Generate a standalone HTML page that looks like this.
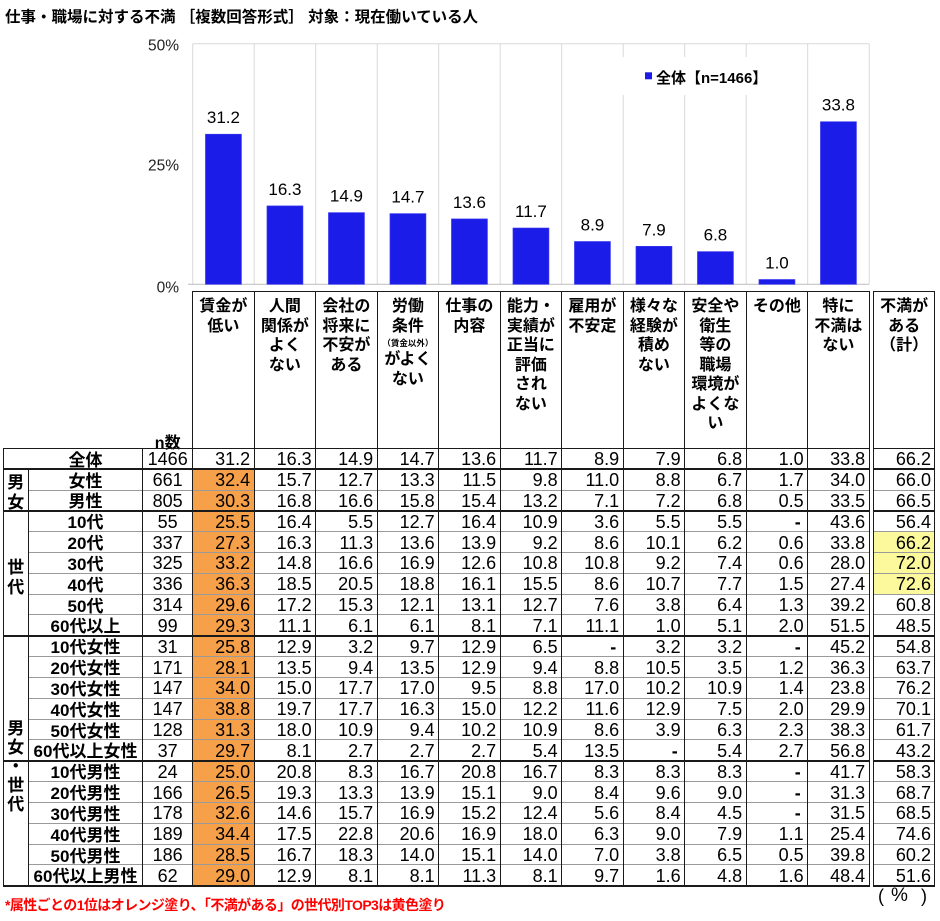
<!DOCTYPE html>
<html><head><meta charset="utf-8">
<style>
html,body{margin:0;padding:0;background:#fff;}
body{width:940px;height:921px;position:relative;overflow:hidden;font-family:"Liberation Sans","Noto Sans CJK JP",sans-serif;color:#000;}
.abs{position:absolute;}
.title{position:absolute;left:5px;top:8px;font:bold 15.5px/20px "Liberation Sans","Noto Sans CJK JP",sans-serif;white-space:nowrap;}
.h{position:absolute;top:297px;width:61.5px;text-align:center;font:bold 16px/19.5px "Liberation Sans","Noto Sans CJK JP",sans-serif;white-space:nowrap;}
.h .sm{display:block;font-size:8.5px;line-height:14px;height:14px;}
.r{position:absolute;left:3.3px;height:20.83px;display:flex;}
.r span{flex:none;display:block;width:61.5px;height:20.83px;box-sizing:border-box;padding:1px 4px 0 0;text-align:right;font:18px/20.83px "Liberation Sans",sans-serif;color:#000;white-space:nowrap;}
.r .g{width:25px;padding:0;}
.r .l{width:114.4px;padding:2.5px 0 0 0;text-align:center;font:bold 17px/20.83px "Liberation Sans","Noto Sans CJK JP",sans-serif;}
.r .n{width:50px;padding:1px 0 0 0;text-align:center;}
.r .t{margin-left:4.1px;width:61.7px;}
.r .o{background:#f7a04a;}
.r .y{background:#fcf89c;}
.r .x{font-weight:bold;padding-right:7px;}
.grp{position:absolute;left:3.3px;width:25px;text-align:center;font:bold 17px/20.5px "Liberation Sans","Noto Sans CJK JP",sans-serif;}
.v{position:absolute;width:1px;background:#1a1a1a;}
.hd{position:absolute;height:1.5px;background:#1a1a1a;}
.hg{position:absolute;height:1px;background:#9a9a9a;}
</style></head><body>

<div class="title">仕事・職場に対する不満 ［複数回答形式］ 対象：現在働いている人</div>

<svg class="abs" style="left:0;top:0" width="940" height="300" xmlns="http://www.w3.org/2000/svg">
  <g stroke="#d9d9d9" stroke-width="1">
    <line x1="192.7" y1="43.7" x2="869.2" y2="43.7"/>
    <line x1="192.7" y1="43.7" x2="192.7" y2="284.3"/>
    <line x1="254.2" y1="43.7" x2="254.2" y2="284.3"/>
    <line x1="315.7" y1="43.7" x2="315.7" y2="284.3"/>
    <line x1="377.2" y1="43.7" x2="377.2" y2="284.3"/>
    <line x1="438.7" y1="43.7" x2="438.7" y2="284.3"/>
    <line x1="500.2" y1="43.7" x2="500.2" y2="284.3"/>
    <line x1="561.7" y1="43.7" x2="561.7" y2="284.3"/>
    <line x1="623.2" y1="43.7" x2="623.2" y2="284.3"/>
    <line x1="684.7" y1="43.7" x2="684.7" y2="284.3"/>
    <line x1="746.2" y1="43.7" x2="746.2" y2="284.3"/>
    <line x1="807.7" y1="43.7" x2="807.7" y2="284.3"/>
    <line x1="869.2" y1="43.7" x2="869.2" y2="284.3"/>
  </g>
  <line x1="188" y1="284.3" x2="869.2" y2="284.3" stroke="#c4c4c4" stroke-width="1.2"/>
  <rect x="600" y="57" width="190" height="38" fill="#fff"/>
  <rect x="645" y="72.3" width="7" height="7" fill="#1c1ce8"/>
  <text x="656" y="83" font-family="Liberation Sans, Noto Sans CJK JP, sans-serif" font-size="15" font-weight="bold" fill="#000">全体【n=1466】</text>

  <g font-family="Liberation Sans, sans-serif" font-size="15.5" fill="#222" text-anchor="end">
    <text x="179" y="50.7">50%</text>
    <text x="179" y="170.7">25%</text>
    <text x="179" y="292.5">0%</text>
  </g>

  <g fill="#1c1ce8" stroke="#3a3af0" stroke-width="0.6">
    <rect x="205.45" y="134.2" width="36" height="150.1"/>
    <rect x="266.95" y="205.9" width="36" height="78.4"/>
    <rect x="328.45" y="212.6" width="36" height="71.7"/>
    <rect x="389.95" y="213.6" width="36" height="70.7"/>
    <rect x="451.45" y="218.9" width="36" height="65.4"/>
    <rect x="512.95" y="228.0" width="36" height="56.3"/>
    <rect x="574.45" y="241.5" width="36" height="42.8"/>
    <rect x="635.95" y="246.3" width="36" height="38.0"/>
    <rect x="697.45" y="251.6" width="36" height="32.7"/>
    <rect x="758.95" y="279.5" width="36" height="4.8"/>
    <rect x="820.45" y="121.7" width="36" height="162.6"/>
  </g>
  <g font-family="Liberation Sans, sans-serif" font-size="17" fill="#000" text-anchor="middle">
    <text x="223.45" y="123.2">31.2</text>
    <text x="284.95" y="194.9">16.3</text>
    <text x="346.45" y="201.6">14.9</text>
    <text x="407.95" y="202.6">14.7</text>
    <text x="469.45" y="207.9">13.6</text>
    <text x="530.95" y="217.0">11.7</text>
    <text x="592.45" y="230.5">8.9</text>
    <text x="653.95" y="235.3">7.9</text>
    <text x="715.45" y="240.6">6.8</text>
    <text x="776.95" y="268.5">1.0</text>
    <text x="838.45" y="110.5">33.8</text>
  </g>
</svg>

<!-- column headers -->
<div class="h" style="left:192.7px">賃金が<br>低い</div>
<div class="h" style="left:254.2px">人間<br>関係が<br>よく<br>ない</div>
<div class="h" style="left:315.7px">会社の<br>将来に<br>不安が<br>ある</div>
<div class="h" style="left:377.2px">労働<br>条件<span class="sm">（賃金以外）</span>がよく<br>ない</div>
<div class="h" style="left:438.7px">仕事の<br>内容</div>
<div class="h" style="left:500.2px">能力・<br>実績が<br>正当に<br>評価<br>され<br>ない</div>
<div class="h" style="left:561.7px">雇用が<br>不安定</div>
<div class="h" style="left:623.2px">様々な<br>経験が<br>積め<br>ない</div>
<div class="h" style="left:684.7px">安全や<br>衛生<br>等の<br>職場<br>環境が<br>よくな<br>い</div>
<div class="h" style="left:746.2px">その他</div>
<div class="h" style="left:807.7px">特に<br>不満は<br>ない</div>
<div class="h" style="left:873.3px;width:61.7px">不満が<br>ある<br>（計）</div>
<div class="h" style="left:142.7px;width:50px;top:433.5px;line-height:19px">n数</div>

<!-- rows -->
<div class="r" style="top:448.3px"><span class="g"></span><span class="l">全体</span><span class="n">1466</span><span>31.2</span><span>16.3</span><span>14.9</span><span>14.7</span><span>13.6</span><span>11.7</span><span>8.9</span><span>7.9</span><span>6.8</span><span>1.0</span><span>33.8</span><span class="t">66.2</span></div>
<div class="r" style="top:469.13px"><span class="g"></span><span class="l">女性</span><span class="n">661</span><span class="o">32.4</span><span>15.7</span><span>12.7</span><span>13.3</span><span>11.5</span><span>9.8</span><span>11.0</span><span>8.8</span><span>6.7</span><span>1.7</span><span>34.0</span><span class="t">66.0</span></div>
<div class="r" style="top:489.96px"><span class="g"></span><span class="l">男性</span><span class="n">805</span><span class="o">30.3</span><span>16.8</span><span>16.6</span><span>15.8</span><span>15.4</span><span>13.2</span><span>7.1</span><span>7.2</span><span>6.8</span><span>0.5</span><span>33.5</span><span class="t">66.5</span></div>
<div class="r" style="top:510.79px"><span class="g"></span><span class="l">10代</span><span class="n">55</span><span class="o">25.5</span><span>16.4</span><span>5.5</span><span>12.7</span><span>16.4</span><span>10.9</span><span>3.6</span><span>5.5</span><span>5.5</span><span class="x">-</span><span>43.6</span><span class="t">56.4</span></div>
<div class="r" style="top:531.62px"><span class="g"></span><span class="l">20代</span><span class="n">337</span><span class="o">27.3</span><span>16.3</span><span>11.3</span><span>13.6</span><span>13.9</span><span>9.2</span><span>8.6</span><span>10.1</span><span>6.2</span><span>0.6</span><span>33.8</span><span class="t y">66.2</span></div>
<div class="r" style="top:552.45px"><span class="g"></span><span class="l">30代</span><span class="n">325</span><span class="o">33.2</span><span>14.8</span><span>16.6</span><span>16.9</span><span>12.6</span><span>10.8</span><span>10.8</span><span>9.2</span><span>7.4</span><span>0.6</span><span>28.0</span><span class="t y">72.0</span></div>
<div class="r" style="top:573.28px"><span class="g"></span><span class="l">40代</span><span class="n">336</span><span class="o">36.3</span><span>18.5</span><span>20.5</span><span>18.8</span><span>16.1</span><span>15.5</span><span>8.6</span><span>10.7</span><span>7.7</span><span>1.5</span><span>27.4</span><span class="t y">72.6</span></div>
<div class="r" style="top:594.11px"><span class="g"></span><span class="l">50代</span><span class="n">314</span><span class="o">29.6</span><span>17.2</span><span>15.3</span><span>12.1</span><span>13.1</span><span>12.7</span><span>7.6</span><span>3.8</span><span>6.4</span><span>1.3</span><span>39.2</span><span class="t">60.8</span></div>
<div class="r" style="top:614.94px"><span class="g"></span><span class="l">60代以上</span><span class="n">99</span><span class="o">29.3</span><span>11.1</span><span>6.1</span><span>6.1</span><span>8.1</span><span>7.1</span><span>11.1</span><span>1.0</span><span>5.1</span><span>2.0</span><span>51.5</span><span class="t">48.5</span></div>
<div class="r" style="top:635.77px"><span class="g"></span><span class="l">10代女性</span><span class="n">31</span><span class="o">25.8</span><span>12.9</span><span>3.2</span><span>9.7</span><span>12.9</span><span>6.5</span><span class="x">-</span><span>3.2</span><span>3.2</span><span class="x">-</span><span>45.2</span><span class="t">54.8</span></div>
<div class="r" style="top:656.6px"><span class="g"></span><span class="l">20代女性</span><span class="n">171</span><span class="o">28.1</span><span>13.5</span><span>9.4</span><span>13.5</span><span>12.9</span><span>9.4</span><span>8.8</span><span>10.5</span><span>3.5</span><span>1.2</span><span>36.3</span><span class="t">63.7</span></div>
<div class="r" style="top:677.43px"><span class="g"></span><span class="l">30代女性</span><span class="n">147</span><span class="o">34.0</span><span>15.0</span><span>17.7</span><span>17.0</span><span>9.5</span><span>8.8</span><span>17.0</span><span>10.2</span><span>10.9</span><span>1.4</span><span>23.8</span><span class="t">76.2</span></div>
<div class="r" style="top:698.26px"><span class="g"></span><span class="l">40代女性</span><span class="n">147</span><span class="o">38.8</span><span>19.7</span><span>17.7</span><span>16.3</span><span>15.0</span><span>12.2</span><span>11.6</span><span>12.9</span><span>7.5</span><span>2.0</span><span>29.9</span><span class="t">70.1</span></div>
<div class="r" style="top:719.09px"><span class="g"></span><span class="l">50代女性</span><span class="n">128</span><span class="o">31.3</span><span>18.0</span><span>10.9</span><span>9.4</span><span>10.2</span><span>10.9</span><span>8.6</span><span>3.9</span><span>6.3</span><span>2.3</span><span>38.3</span><span class="t">61.7</span></div>
<div class="r" style="top:739.92px"><span class="g"></span><span class="l">60代以上女性</span><span class="n">37</span><span class="o">29.7</span><span>8.1</span><span>2.7</span><span>2.7</span><span>2.7</span><span>5.4</span><span>13.5</span><span class="x">-</span><span>5.4</span><span>2.7</span><span>56.8</span><span class="t">43.2</span></div>
<div class="r" style="top:760.75px"><span class="g"></span><span class="l">10代男性</span><span class="n">24</span><span class="o">25.0</span><span>20.8</span><span>8.3</span><span>16.7</span><span>20.8</span><span>16.7</span><span>8.3</span><span>8.3</span><span>8.3</span><span class="x">-</span><span>41.7</span><span class="t">58.3</span></div>
<div class="r" style="top:781.58px"><span class="g"></span><span class="l">20代男性</span><span class="n">166</span><span class="o">26.5</span><span>19.3</span><span>13.3</span><span>13.9</span><span>15.1</span><span>9.0</span><span>8.4</span><span>9.6</span><span>9.0</span><span class="x">-</span><span>31.3</span><span class="t">68.7</span></div>
<div class="r" style="top:802.41px"><span class="g"></span><span class="l">30代男性</span><span class="n">178</span><span class="o">32.6</span><span>14.6</span><span>15.7</span><span>16.9</span><span>15.2</span><span>12.4</span><span>5.6</span><span>8.4</span><span>4.5</span><span class="x">-</span><span>31.5</span><span class="t">68.5</span></div>
<div class="r" style="top:823.24px"><span class="g"></span><span class="l">40代男性</span><span class="n">189</span><span class="o">34.4</span><span>17.5</span><span>22.8</span><span>20.6</span><span>16.9</span><span>18.0</span><span>6.3</span><span>9.0</span><span>7.9</span><span>1.1</span><span>25.4</span><span class="t">74.6</span></div>
<div class="r" style="top:844.07px"><span class="g"></span><span class="l">50代男性</span><span class="n">186</span><span class="o">28.5</span><span>16.7</span><span>18.3</span><span>14.0</span><span>15.1</span><span>14.0</span><span>7.0</span><span>3.8</span><span>6.5</span><span>0.5</span><span>39.8</span><span class="t">60.2</span></div>
<div class="r" style="top:864.9px"><span class="g"></span><span class="l">60代以上男性</span><span class="n">62</span><span class="o">29.0</span><span>12.9</span><span>8.1</span><span>8.1</span><span>11.3</span><span>8.1</span><span>9.7</span><span>1.6</span><span>4.8</span><span>1.6</span><span>48.4</span><span class="t">51.6</span></div>

<!-- group labels -->
<div class="grp" style="top:472.5px">男<br>女</div>
<div class="grp" style="top:557.5px">世<br>代</div>
<div class="grp" style="top:718.5px;line-height:19px">男<br>女<br>・<br>世<br>代</div>

<!-- horizontal gray lines -->
<div class="hg" style="left:28.3px;width:840.9px;top:489.5px"></div>
<div class="hg" style="left:28.3px;width:840.9px;top:531.1px"></div>
<div class="hg" style="left:28.3px;width:840.9px;top:552.0px"></div>
<div class="hg" style="left:28.3px;width:840.9px;top:572.8px"></div>
<div class="hg" style="left:28.3px;width:840.9px;top:593.6px"></div>
<div class="hg" style="left:28.3px;width:840.9px;top:614.4px"></div>
<div class="hg" style="left:28.3px;width:840.9px;top:656.1px"></div>
<div class="hg" style="left:28.3px;width:840.9px;top:676.9px"></div>
<div class="hg" style="left:28.3px;width:840.9px;top:697.8px"></div>
<div class="hg" style="left:28.3px;width:840.9px;top:718.6px"></div>
<div class="hg" style="left:28.3px;width:840.9px;top:739.4px"></div>
<div class="hg" style="left:28.3px;width:840.9px;top:781.1px"></div>
<div class="hg" style="left:28.3px;width:840.9px;top:801.9px"></div>
<div class="hg" style="left:28.3px;width:840.9px;top:822.7px"></div>
<div class="hg" style="left:28.3px;width:840.9px;top:843.6px"></div>
<div class="hg" style="left:28.3px;width:840.9px;top:864.4px"></div>

<div class="hg" style="left:873.3px;width:61.7px;top:489.5px"></div>
<div class="hg" style="left:873.3px;width:61.7px;top:531.1px"></div>
<div class="hg" style="left:873.3px;width:61.7px;top:552.0px"></div>
<div class="hg" style="left:873.3px;width:61.7px;top:572.8px"></div>
<div class="hg" style="left:873.3px;width:61.7px;top:593.6px"></div>
<div class="hg" style="left:873.3px;width:61.7px;top:614.4px"></div>
<div class="hg" style="left:873.3px;width:61.7px;top:656.1px"></div>
<div class="hg" style="left:873.3px;width:61.7px;top:676.9px"></div>
<div class="hg" style="left:873.3px;width:61.7px;top:697.8px"></div>
<div class="hg" style="left:873.3px;width:61.7px;top:718.6px"></div>
<div class="hg" style="left:873.3px;width:61.7px;top:739.4px"></div>
<div class="hg" style="left:873.3px;width:61.7px;top:781.1px"></div>
<div class="hg" style="left:873.3px;width:61.7px;top:801.9px"></div>
<div class="hg" style="left:873.3px;width:61.7px;top:822.7px"></div>
<div class="hg" style="left:873.3px;width:61.7px;top:843.6px"></div>
<div class="hg" style="left:873.3px;width:61.7px;top:864.4px"></div>

<!-- horizontal dark lines -->
<div class="hd" style="left:192.7px;width:677px;top:290.5px"></div>
<div class="hd" style="left:3.3px;width:866.4px;top:447.6px"></div>
<div class="hd" style="left:3.3px;width:866.4px;top:468.4px"></div>
<div class="hd" style="left:3.3px;width:866.4px;top:510.0px"></div>
<div class="hd" style="left:3.3px;width:866.4px;top:635.0px"></div>
<div class="hd" style="left:3.3px;width:866.4px;top:760.0px"></div>
<div class="hd" style="left:3.3px;width:866.4px;top:885.0px"></div>

<div class="hd" style="left:873.3px;width:62.2px;top:290.5px"></div>
<div class="hd" style="left:873.3px;width:62.2px;top:447.6px"></div>
<div class="hd" style="left:873.3px;width:62.2px;top:468.4px"></div>
<div class="hd" style="left:873.3px;width:62.2px;top:510.0px"></div>
<div class="hd" style="left:873.3px;width:62.2px;top:635.0px"></div>
<div class="hd" style="left:873.3px;width:62.2px;top:760.0px"></div>
<div class="hd" style="left:873.3px;width:62.2px;top:885.0px"></div>

<!-- vertical lines -->
<div class="v" style="left:2.8px;top:447.6px;height:438.9px"></div>
<div class="v" style="left:27.8px;top:468.4px;height:418px"></div>
<div class="v" style="left:142.2px;top:447.6px;height:438.9px"></div>
<div class="v" style="left:192.2px;top:290.5px;height:596px"></div>
<div class="v" style="left:253.7px;top:290.5px;height:596px"></div>
<div class="v" style="left:315.2px;top:290.5px;height:596px"></div>
<div class="v" style="left:376.7px;top:290.5px;height:596px"></div>
<div class="v" style="left:438.2px;top:290.5px;height:596px"></div>
<div class="v" style="left:499.7px;top:290.5px;height:596px"></div>
<div class="v" style="left:561.2px;top:290.5px;height:596px"></div>
<div class="v" style="left:622.7px;top:290.5px;height:596px"></div>
<div class="v" style="left:684.2px;top:290.5px;height:596px"></div>
<div class="v" style="left:745.7px;top:290.5px;height:596px"></div>
<div class="v" style="left:807.2px;top:290.5px;height:596px"></div>
<div class="v" style="left:868.7px;top:290.5px;height:596px"></div>
<div class="v" style="left:872.8px;top:290.5px;height:596px"></div>
<div class="v" style="left:934.3px;top:290.5px;height:596px"></div>

<!-- footer -->
<div class="abs" style="left:5px;top:896px;font:bold 14px/19px 'Liberation Sans','Noto Sans CJK JP',sans-serif;color:#f00;letter-spacing:-0.6px;white-space:nowrap">*属性ごとの1位はオレンジ塗り、「不満がある」の世代別TOP3は黄色塗り</div>
<div class="abs" style="left:878px;top:886px;font:18px/20px 'Liberation Sans',sans-serif;white-space:nowrap">(</div>
<div class="abs" style="left:891px;top:886px;font:19px/20px 'Liberation Sans',sans-serif;white-space:nowrap">%</div>
<div class="abs" style="left:921px;top:886px;font:18px/20px 'Liberation Sans',sans-serif;white-space:nowrap">)</div>

</body></html>
